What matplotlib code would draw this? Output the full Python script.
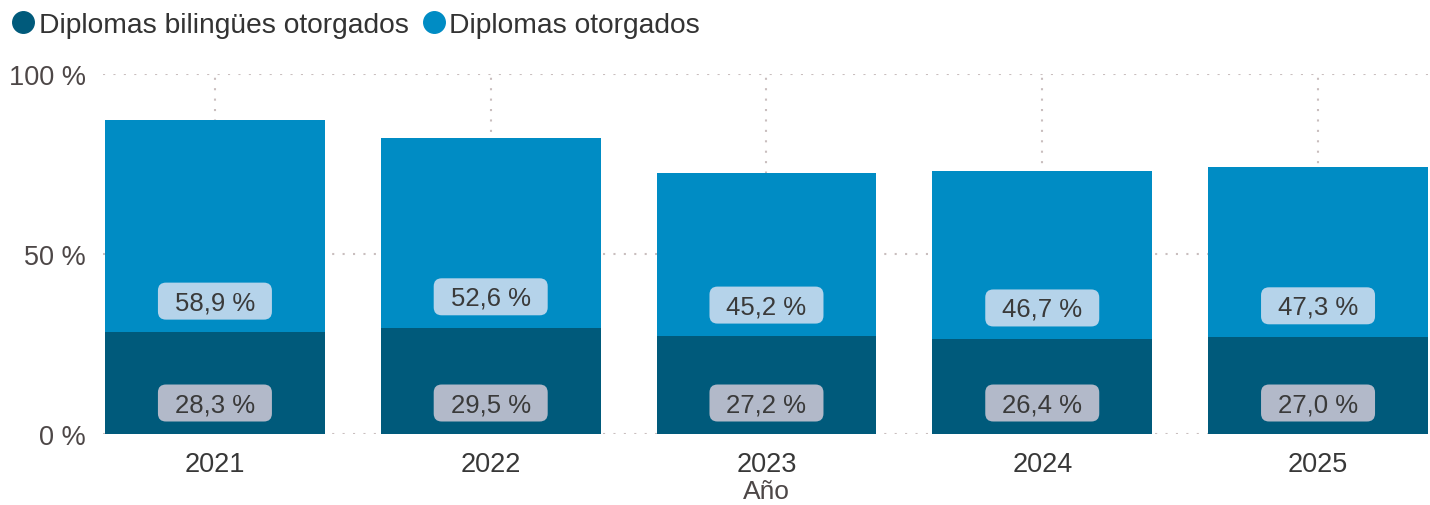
import matplotlib.pyplot as plt
from matplotlib.lines import Line2D
from matplotlib.patches import FancyBboxPatch
from matplotlib.transforms import IdentityTransform

plt.rcParams['font.family'] = ['Liberation Sans', 'DejaVu Sans']

years = ['2021', '2022', '2023', '2024', '2025']
bilingues = [28.3, 29.5, 27.2, 26.4, 27.0]
otorgados = [58.9, 52.6, 45.2, 46.7, 47.3]

c_dark = '#005a7b'
c_light = '#008cc4'
txt = '#3a3a3a'
tick_c = '#4d4747'
grid_c = '#c9bebe'

fig = plt.figure(figsize=(14.3, 5.06), dpi=100)
ax = fig.add_axes([0.072, 0.1403, 0.928, 0.7115])

x = range(len(years))
ax.bar(x, bilingues, width=0.797, color=c_dark, zorder=2)
ax.bar(x, otorgados, width=0.797, bottom=bilingues, color=c_light, zorder=2)

ax.set_xlim(-0.406, 4.406)
ax.set_ylim(0, 100)


def fmt(v):
    return ('%.1f %%' % v).replace('.', ',')


def data_label(i, base, value, fc):
    # box sits a fixed pixel distance above the segment base (pbi "inside base")
    px, py = ax.transData.transform((i, base))
    cy = py + 31
    box = FancyBboxPatch((px - 57, cy - 18.5), 114, 37,
                         boxstyle='round,pad=0,rounding_size=8',
                         fc=fc, ec='none', transform=IdentityTransform(), zorder=3)
    ax.add_patch(box)
    ax.text(px, cy - 1, fmt(value), transform=IdentityTransform(), ha='center',
            va='center', fontsize=18.5, color=txt, zorder=4)


for i in x:
    data_label(i, 0, bilingues[i], '#b2b9c9')
    data_label(i, bilingues[i], otorgados[i], '#b5d3ea')

ax.set_yticks([0, 50, 100])
ax.set_yticklabels(['0 %', '50 %', '100 %'])
ax.set_xticks(list(x))
ax.set_xticklabels(years)
ax.tick_params(length=0, labelsize=19.5)
ax.tick_params(axis='x', pad=12, labelcolor='#383838')
ax.tick_params(axis='y', pad=12.5, labelcolor=tick_c)
ax.grid(True, linestyle=(0, (1, 4)), color=grid_c, linewidth=1.5, zorder=0)
for s in ax.spines.values():
    s.set_visible(False)
ax.set_xlabel('Año', fontsize=19, color=tick_c, labelpad=1.5)

handles = [Line2D([], [], marker='o', ls='', color=c_dark, markersize=15.5),
           Line2D([], [], marker='o', ls='', color=c_light, markersize=15.5)]
fig.legend(handles, ['Diplomas bilingües otorgados', 'Diplomas otorgados'],
           loc='upper left', bbox_to_anchor=(0.0084, 0.975), ncol=2, frameon=False,
           fontsize=20.3, handlelength=0.8, handletextpad=0.14, columnspacing=0.5,
           labelcolor='#333333', borderpad=0, borderaxespad=0)

fig.savefig('out.png', dpi=100)
